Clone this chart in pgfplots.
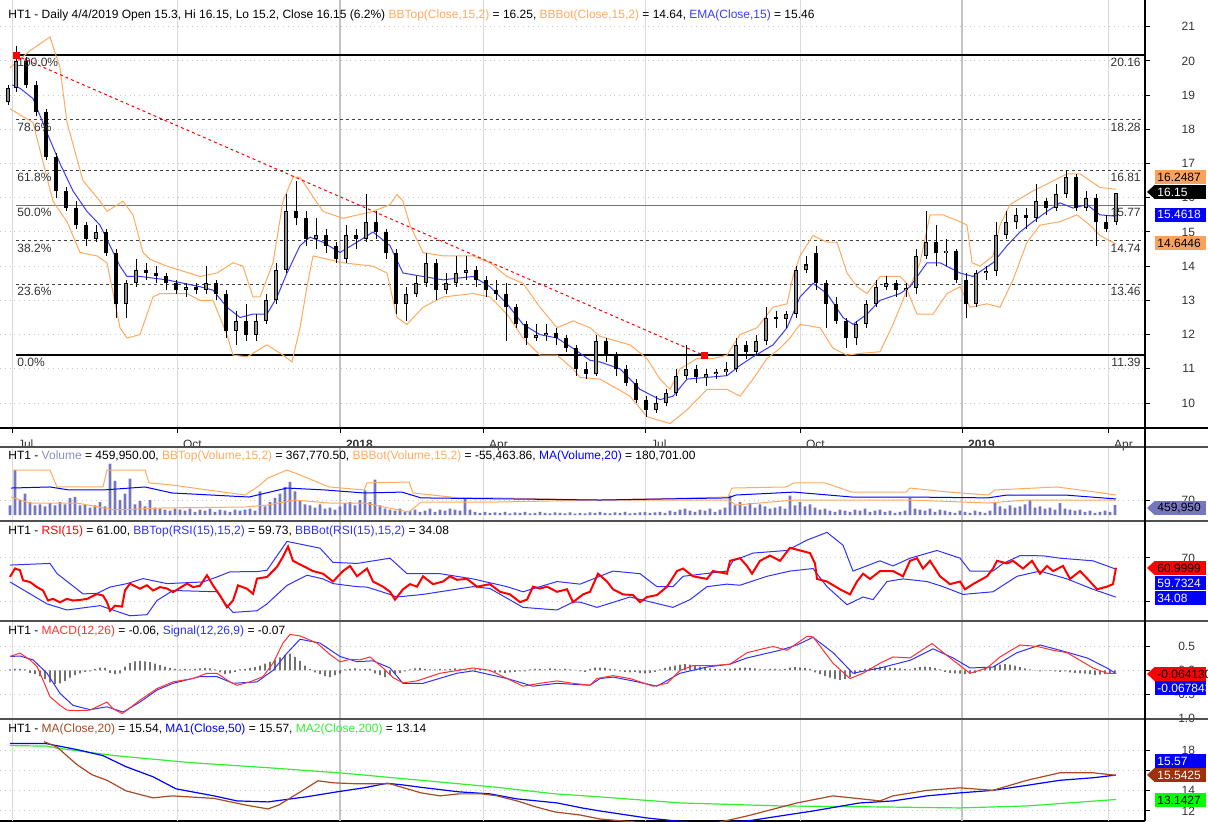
\documentclass[border=0pt]{standalone}
\usepackage{fontspec}
\setmainfont{Liberation Sans}
\usepackage{pgfplots}
\usepackage{pgfplotstable}
\pgfplotsset{compat=1.18}

\definecolor{bbor}{HTML}{FFAA5E}
\definecolor{emab}{HTML}{3A3AFF}
\definecolor{volc}{HTML}{7676BE}
\definecolor{voltxt}{HTML}{8C8CCC}
\definecolor{bandbl}{HTML}{3030FF}
\definecolor{macdred}{HTML}{FF3030}
\definecolor{mabrown}{HTML}{A84A24}
\definecolor{magreen}{HTML}{30F030}
\definecolor{tagor}{HTML}{F9A25E}
\definecolor{tagbrown}{HTML}{A0300A}
\definecolor{qgrid}{HTML}{DADADA}
\definecolor{ygrid}{HTML}{C4C4C4}
\definecolor{sep}{HTML}{505050}
\definecolor{lbl}{HTML}{333333}
\definecolor{upbody}{HTML}{8C8C8C}

\newcommand\smallfont{\fontsize{6}{7}\selectfont}

% quarter and year grid lines, drawn in every panel
\newcommand\vgrid{%
  \pgfplotsinvokeforeach{12,177,483,645,800,1108}{%
    \draw[qgrid, line width=0.5pt] ({axis cs:##1,0}|-{rel axis cs:0,0}) -- ({axis cs:##1,0}|-{rel axis cs:0,1});}%
  \pgfplotsinvokeforeach{340,962}{%
    \draw[ygrid, line width=1.1pt] ({axis cs:##1,0}|-{rel axis cs:0,0}) -- ({axis cs:##1,0}|-{rel axis cs:0,1});}%
}

\pgfplotsset{
  panel/.style={
    scale only axis, width=572.5pt, xmin=0, xmax=1145,
    axis x line*=bottom, axis y line*=right,
    axis line style={-, black, line width=0.6pt},
    tick align=outside, major tick length=2.5pt,
    tick style={black, line width=0.5pt},
    ymajorgrids, major y grid style={gray!45, dotted, line width=0.5pt},
    tick label style={font=\smallfont, text=lbl},
    yticklabel style={anchor=east, xshift=26pt},
    /pgf/number format/assume math mode=true,
  },
  lower/.style={panel, xtick=\empty},
  candle/.style={mark=none, draw=none, error bars/y dir=both, error bars/y explicit,
    error bars/error mark=none, error bars/error bar style={draw=#1}},
}
\tikzset{tag/.style={font=\smallfont, anchor=west, inner xsep=1pt, inner ysep=0pt,
  minimum width=25.5pt, minimum height=7pt, xshift=5pt}}
\newcommand\ptag[3]{% plain tag: coord, fill, text
  \node[tag, fill=#2] at (#1) {\makebox[23.5pt][l]{#3}};}
\newcommand\atag[4]{% tag with arrow
  \node[tag, fill=#2, text=#3] (tmp) at (#1) {\makebox[23.5pt][l]{#4}};
  \fill[#2] (tmp.north west) -- ([xshift=-4pt]tmp.west) -- (tmp.south west) -- cycle;}

% ---------------- data ----------------
\pgfplotstableread{
x o h l c
8 18.8 19.3 18.7 19.2
16 19.2 20.45 19.1 20.0
26 20.0 20.1 19.2 19.3
36 19.3 19.4 18.4 18.5
46 18.5 18.6 17.1 17.2
56 17.2 17.3 16.0 16.2
66 16.2 16.3 15.6 15.7
76 15.7 15.9 15.1 15.2
86 15.2 15.3 14.6 14.8
96 14.8 15.2 14.7 15.0
106 15.0 15.1 14.3 14.4
116 14.4 14.5 12.5 12.9
126 12.9 13.6 12.5 13.5
136 13.5 14.2 13.4 13.9
146 13.9 14.1 13.6 13.8
156 13.8 14.0 13.5 13.7
166 13.7 13.8 13.3 13.5
176 13.5 13.6 13.2 13.3
186 13.3 13.5 13.1 13.4
196 13.4 13.5 13.2 13.3
206 13.3 14.0 13.2 13.5
216 13.5 13.6 13.0 13.2
226 13.2 13.3 11.9 12.1
236 12.1 12.7 11.7 12.4
246 12.4 12.9 11.8 12.0
256 12.0 12.6 11.8 12.4
266 12.4 13.2 12.3 13.0
276 13.0 14.1 12.9 13.9
286 13.9 16.1 13.8 15.6
296 15.6 16.5 15.2 15.4
306 15.4 15.6 14.6 14.8
316 14.8 15.4 14.5 14.9
326 14.9 15.1 14.4 14.6
336 14.6 14.7 14.1 14.2
346 14.2 15.2 14.1 14.9
356 14.9 15.1 14.5 14.8
366 14.8 16.1 14.7 15.3
376 15.3 15.6 14.8 15.0
386 15.0 15.1 14.2 14.4
396 14.4 14.5 12.6 12.9
406 12.9 13.4 12.4 13.2
416 13.2 13.7 13.1 13.5
426 13.5 14.4 13.4 14.1
436 14.1 14.2 13.0 13.3
446 13.3 13.8 13.2 13.5
456 13.5 14.3 13.4 13.8
466 13.8 14.3 13.6 13.9
476 13.9 14.0 13.4 13.6
486 13.6 13.7 13.1 13.3
496 13.3 13.6 13.0 13.2
506 13.2 13.5 11.8 12.8
516 12.8 12.9 12.2 12.3
526 12.3 12.4 11.7 11.9
536 11.9 12.3 11.8 12.0
546 12.0 12.3 11.8 12.05
556 12.05 12.2 11.7 11.9
566 11.9 12.0 11.5 11.6
576 11.6 11.7 10.8 11.0
586 11.0 11.2 10.7 10.85
596 10.85 12.0 10.8 11.8
606 11.8 11.9 11.2 11.4
616 11.4 11.5 10.8 11.0
626 11.0 11.1 10.5 10.6
636 10.6 10.7 10.0 10.1
646 10.1 10.2 9.6 9.8
656 9.8 10.2 9.7 10.0
666 10.0 10.4 9.9 10.3
676 10.3 11.0 10.2 10.8
686 10.8 11.7 10.7 11.0
696 11.0 11.1 10.6 10.75
706 10.75 11.0 10.5 10.85
716 10.85 11.0 10.7 10.9
726 10.9 11.2 10.8 11.0
736 11.0 11.9 10.9 11.7
746 11.7 11.8 11.3 11.5
756 11.5 12.0 11.4 11.8
766 11.8 12.8 11.7 12.5
776 12.5 12.7 12.2 12.45
786 12.45 12.7 12.2 12.6
796 12.6 14.0 12.5 13.9
806 13.9 14.3 13.8 14.05
816 14.4 14.6 13.3 13.5
826 13.5 13.6 12.2 12.9
836 12.9 13.1 12.3 12.4
846 12.4 12.5 11.6 11.9
856 11.9 12.4 11.7 12.3
866 12.3 13.0 12.2 12.9
876 12.9 13.6 12.8 13.4
886 13.4 13.7 13.3 13.5
896 13.5 13.6 13.1 13.3
906 13.3 13.5 13.1 13.35
916 13.35 14.5 13.2 14.3
926 14.3 15.6 14.2 14.7
936 14.7 15.2 14.0 14.4
946 14.4 14.8 14.0 14.45
956 14.45 14.5 13.5 13.6
966 13.6 13.8 12.5 12.9
976 12.9 13.9 12.8 13.8
986 13.8 14.0 13.6 13.85
996 13.85 15.3 13.7 14.9
1006 14.9 15.6 14.8 15.3
1016 15.3 15.7 15.1 15.5
1026 15.5 15.7 15.1 15.4
1036 15.4 16.4 15.3 15.9
1046 15.9 16.0 15.5 15.7
1056 15.7 16.4 15.6 16.1
1066 16.1 16.8 16.0 16.6
1076 16.6 16.7 15.6 15.7
1086 15.7 16.2 15.6 16.0
1096 16.0 16.1 14.6 15.3
1106 15.3 15.5 15.0 15.1
1116 15.3 16.15 15.2 16.15
}\candles

\pgfplotstableread{
x y
10 19.8
30 20.3
50 20.7
60 19.8
67 18.2
83 16.5
100 15.9
107 15.6
123 15.9
133 15.5
143 14.4
150 14.2
167 14.0
200 13.7
217 13.8
233 14.1
243 14.0
253 13.1
260 13.1
273 14.1
283 15.9
293 16.6
300 16.6
323 15.6
343 15.4
373 15.6
390 15.8
397 16.1
403 15.9
410 15.2
423 14.4
443 14.3
473 14.3
490 14.1
507 13.7
523 13.5
540 12.8
557 12.2
573 12.4
590 12.2
600 11.95
630 11.7
647 11.3
660 10.7
670 10.4
680 11.0
697 11.3
713 11.3
727 11.4
740 12.0
757 12.2
773 12.8
787 12.9
793 13.7
800 14.3
813 14.9
827 14.7
837 14.7
847 13.8
857 13.4
867 13.2
880 13.7
900 13.7
910 13.4
920 14.1
930 15.5
943 15.5
960 15.3
967 15.2
972 14.1
980 14.0
993 14.3
1000 15.2
1010 15.8
1033 16.2
1047 16.4
1067 16.7
1080 16.7
1100 16.3
1116 16.25
}\bbtop

\pgfplotstableread{
x y
10 18.6
33 18.2
53 15.9
67 15.3
80 14.4
97 14.3
107 14.1
120 12.2
127 11.9
140 12.0
153 13.1
160 13.2
187 13.2
200 13.0
213 13.0
227 12.0
233 11.4
247 11.35
267 11.7
283 11.4
292 11.2
300 12.2
307 13.4
313 14.3
343 14.1
373 14.0
387 13.8
397 12.5
407 12.3
423 12.8
443 13.1
473 13.2
490 13.1
507 12.6
523 11.9
540 11.4
557 11.4
573 11.0
580 10.75
600 10.7
630 10.2
647 9.6
670 9.4
687 9.8
707 10.4
727 10.4
740 10.2
753 10.7
767 11.3
780 11.6
790 11.9
800 12.3
820 12.2
833 11.6
847 11.4
860 11.45
880 11.5
893 12.3
907 13.3
917 12.6
933 12.6
947 13.2
960 13.4
970 12.8
987 12.9
1000 12.8
1013 13.6
1027 14.7
1040 15.2
1060 15.3
1077 15.5
1090 15.2
1100 14.9
1116 14.64
}\bbbot

\pgfplotstableread{
x y
12 19.3
20 19.2
33 18.9
47 17.9
60 17.0
73 16.2
87 15.6
100 15.2
110 14.6
120 14.0
127 13.7
140 13.7
167 13.6
200 13.4
213 13.3
227 12.8
240 12.5
253 12.6
267 12.6
277 13.1
287 13.8
300 14.6
310 14.85
323 14.7
340 14.4
357 14.7
373 15.0
390 14.6
403 13.8
423 13.7
443 13.6
473 13.7
490 13.4
507 12.9
523 12.3
540 12.0
557 11.9
573 11.6
590 11.25
600 11.2
620 11.0
640 10.4
660 10.1
673 10.2
687 10.7
707 10.75
727 10.8
740 11.1
753 11.35
773 11.7
787 12.2
800 13.1
813 13.5
827 13.2
843 12.5
853 12.3
867 12.6
880 13.0
900 13.2
910 13.4
927 14.1
940 14.1
960 13.8
973 13.7
993 14.1
1007 14.6
1020 15.0
1033 15.3
1047 15.6
1060 15.85
1073 15.7
1087 15.8
1100 15.5
1116 15.46
}\ema

\pgfplotstableread{
x v
10 450
15 2100
20 700
25 1000
30 600
35 450
40 500
45 400
50 550
55 450
60 600
65 500
70 800
75 850
80 450
85 500
90 350
95 450
100 600
105 400
110 2400
115 1600
120 700
125 1000
130 1700
135 500
140 650
145 400
150 700
155 350
160 300
165 250
170 200
175 300
180 250
185 200
190 300
195 150
200 250
205 200
210 300
215 150
220 250
225 200
230 150
235 250
240 200
245 250
250 300
255 200
260 1100
265 400
270 600
275 800
280 1000
285 1300
290 1550
295 1100
300 700
305 500
310 450
315 350
320 500
325 300
330 350
335 250
340 400
345 550
350 600
355 450
360 700
365 1150
370 600
375 1650
380 450
385 300
390 250
395 200
400 300
405 150
410 200
415 250
420 150
425 200
430 300
435 150
440 250
445 200
450 300
455 250
460 200
465 800
470 250
475 150
480 100
485 150
490 100
495 120
500 100
505 150
510 80
515 120
520 100
525 150
530 80
535 100
540 150
545 100
550 80
555 120
560 100
565 80
570 120
575 60
580 100
585 80
590 120
595 100
600 150
605 100
610 80
615 120
620 100
625 150
630 80
635 100
640 120
645 150
650 100
655 120
660 150
665 100
670 200
675 150
680 250
685 300
690 200
695 150
700 250
705 200
710 300
715 150
720 250
725 350
730 900
735 450
740 600
745 400
750 550
755 350
760 500
765 400
770 300
775 350
780 400
785 300
790 900
795 450
800 600
805 400
810 500
815 350
820 250
825 300
830 200
835 150
840 250
845 200
850 150
855 250
860 200
865 300
870 150
875 200
880 250
885 150
890 200
895 100
900 150
905 200
910 800
915 300
920 250
925 200
930 300
935 150
940 250
945 200
950 150
955 100
960 200
965 150
970 100
975 200
980 150
985 100
990 200
995 550
1000 400
1005 300
1010 450
1015 350
1020 400
1025 500
1030 700
1035 350
1040 400
1045 300
1050 350
1055 250
1060 550
1065 300
1070 250
1075 200
1080 250
1085 150
1090 200
1095 100
1100 150
1105 200
1110 150
1115 460
}\vol

\pgfplotstableread{
x y
13 2100
50 2100
57 1310
103 1310
107 2100
145 2100
149 1500
172 1400
245 934
260 1400
268 1730
287 2100
300 1870
329 1310
364 1170
367 1500
409 1540
413 1030
459 800
497 800
600 700
728 840
732 1260
786 1310
794 1500
825 1500
852 1070
906 1070
910 1260
949 1070
988 934
995 1170
1057 1310
1096 1070
1116 934
}\vbbtop

\pgfplotstableread{
x y
11 840
30 560
77 560
115 234
161 327
245 374
268 467
295 700
329 560
364 560
409 140
421 607
497 607
600 700
728 700
736 467
794 700
852 700
910 700
988 560
1026 700
1116 700
}\vbbbot

\pgfplotstableread{
x y
11 1260
50 1310
69 1170
103 1170
145 1310
172 1030
249 840
287 1260
325 1170
364 1030
402 1070
421 800
600 700
728 800
736 934
794 1070
852 840
910 840
988 800
1007 934
1065 934
1116 750
}\vma

\pgfplotstableread{
x y
10 52.6
15 60.4
20 58.8
23 49.5
30 48
37 43.3
43 40.2
48 31
53 32.5
60 29.4
67 32.5
73 31
80 31.5
87 32.5
97 37
103 35.6
107 29.4
110 21.6
115 26.3
122 25.4
125 40.2
130 46.5
140 41.8
147 45
153 40.2
160 43.3
167 42
173 38.7
187 46.5
193 43.3
200 44.5
207 54.2
213 44.9
220 35.6
227 24.8
233 31
238 44.9
247 41.8
253 37.1
257 51.1
267 52.6
277 61.9
283 71.2
288 80.5
293 67.4
303 62.7
313 58
323 55.6
333 48.4
343 58
350 62.7
357 53.2
367 60.3
373 48.4
383 43.7
390 39
395 31.8
403 41.3
410 46
417 43.7
423 53.2
433 46
443 48.4
450 53.2
457 50
467 50.8
477 43.7
490 46
500 39
510 36.6
520 29.5
527 31.8
533 43.7
540 42
547 43.7
557 39
567 41.3
573 29.5
583 36.6
590 39
598 55.6
607 48.4
613 41.3
623 36.6
633 36
640 29.5
647 34.2
657 36
667 43.7
677 58
683 60.3
693 53.2
707 50.8
713 58
727 55.6
730 67.4
740 69.8
747 62.7
752 55.6
760 67.4
770 72.2
780 67.4
790 79.3
800 76.9
810 74.5
815 65
817 50.8
827 48.4
840 41.3
850 36.6
857 48.4
863 55.6
870 50.8
880 58
893 58
903 53.2
910 67.4
917 69.8
923 60.3
930 67.4
940 53.2
950 46
960 48.4
965 41.3
973 46
987 53.2
993 60.3
997 67.4
1007 65
1013 67.4
1023 60.3
1032 67.4
1040 55.6
1047 62.7
1053 58
1063 62.7
1070 50.8
1080 58
1090 48.4
1097 41.3
1107 43.7
1113 46
1116 61
}\rsi

\pgfplotstableread{
x y
10 63.5
50 65
57 55.7
83 37.1
97 37.5
110 43.3
127 46.5
143 51.1
167 46.5
203 48
217 52.6
230 57.3
257 57.5
267 58.8
287 85.2
320 79
333 66
357 65
390 69.8
407 55.6
440 55.6
473 50.8
507 43.7
523 39
557 48.4
580 46
613 58
640 55.6
657 43.7
673 43.7
683 53.2
727 58
733 67.4
753 74.5
787 76.9
807 86.4
827 93.5
843 81.7
853 58
880 67.4
893 62.7
910 69.8
937 76.9
960 69.8
970 58
993 58
1003 65
1020 72.2
1043 72
1060 69.8
1093 67.4
1116 59.73
}\rsitop

\pgfplotstableread{
x y
10 48
47 27.9
67 22.3
100 26.3
130 17
147 18
157 31
173 40.2
217 39
227 26.3
233 20.1
257 21.6
267 27.9
287 44.9
307 54.2
323 50.8
333 46.5
357 43.7
367 43.3
390 36.6
397 34.2
423 36.6
473 43.7
490 42
523 24.7
557 22.3
573 29.5
580 29.5
597 24.7
630 34.2
673 24.7
690 31.8
707 43.7
727 46
740 45
767 53.2
790 58
813 60.3
827 43.7
847 27.1
863 34.2
873 31.8
887 48.4
903 50.8
927 48.4
943 43.7
963 36.6
993 39
1017 53.2
1040 58
1067 50.8
1093 41.3
1116 34.08
}\rsibot

\pgfplotstableread{
x y
10 0.29
20 0.36
30 0.22
37 0.08
43 -0.20
50 -0.55
60 -0.73
67 -0.83
77 -0.84
90 -0.83
100 -0.73
107 -0.66
113 -0.80
122 -0.90
127 -0.83
140 -0.62
157 -0.38
173 -0.24
193 -0.17
207 -0.06
217 -0.06
230 -0.24
237 -0.31
250 -0.24
263 -0.13
273 0.15
283 0.57
290 0.75
300 0.72
317 0.57
330 0.33
340 0.18
350 0.23
360 0.22
370 0.28
383 0.05
393 -0.15
403 -0.26
417 -0.22
440 -0.06
473 0.05
490 0.0
523 -0.33
540 -0.27
557 -0.22
573 -0.27
590 -0.31
597 -0.17
613 -0.11
630 -0.17
653 -0.33
667 -0.27
680 0.0
693 0.10
713 0.10
730 0.13
747 0.37
773 0.50
787 0.42
807 0.71
813 0.70
833 0.15
850 -0.17
863 -0.06
880 0.15
893 0.28
910 0.26
932 0.56
947 0.31
960 0.10
970 -0.06
987 0.05
1000 0.28
1020 0.53
1037 0.50
1053 0.42
1067 0.37
1080 0.21
1093 0.05
1107 -0.06
1116 -0.064
}\macd

\pgfplotstableread{
x y
10 0.29
20 0.30
33 0.22
47 -0.06
60 -0.48
73 -0.73
90 -0.82
107 -0.76
123 -0.87
140 -0.66
157 -0.41
173 -0.27
200 -0.13
217 -0.13
233 -0.27
257 -0.24
273 0.00
287 0.36
300 0.65
320 0.57
340 0.29
357 0.18
373 0.20
390 0.05
403 -0.27
423 -0.27
457 -0.06
473 -0.01
507 -0.17
533 -0.33
557 -0.27
590 -0.31
600 -0.17
613 -0.14
633 -0.22
657 -0.33
680 -0.06
707 0.07
730 0.13
747 0.26
780 0.42
797 0.53
813 0.69
833 0.37
853 -0.06
880 0.05
910 0.21
933 0.45
953 0.26
970 0.05
993 0.07
1017 0.37
1040 0.53
1060 0.42
1087 0.26
1107 0.05
1116 -0.068
}\signal

\pgfplotstableread{
x y
10 0.02
15 0.03
20 0.03
25 0.02
30 -0.05
35 -0.08
40 -0.12
45 -0.18
50 -0.25
55 -0.28
60 -0.27
65 -0.22
70 -0.15
75 -0.10
80 -0.06
85 -0.03
90 -0.02
95 0.03
100 0.06
105 0.05
110 -0.05
115 -0.08
120 -0.06
125 0.08
130 0.15
135 0.19
140 0.20
145 0.19
150 0.17
155 0.14
160 0.11
165 0.08
170 0.05
175 0.03
180 0.02
185 0.03
190 0.02
195 0.03
200 0.04
205 0.05
210 0.04
215 0.02
220 -0.04
225 -0.08
230 -0.06
235 -0.03
240 0.02
245 0.03
250 0.05
255 0.07
260 0.10
265 0.14
270 0.18
275 0.22
280 0.27
285 0.32
290 0.35
295 0.28
300 0.20
305 0.10
310 0.03
315 -0.04
320 -0.08
325 -0.12
330 -0.14
335 -0.10
340 -0.06
345 0.02
350 0.03
355 0.04
360 0.02
365 0.03
370 0.03
375 -0.06
380 -0.10
385 -0.14
390 -0.10
395 -0.08
400 -0.05
405 -0.02
410 0.02
415 0.04
420 0.05
425 0.03
430 0.02
435 0.02
440 0.03
445 0.02
450 0.03
455 0.04
460 0.03
465 0.02
470 0.01
475 0.02
480 0.03
485 0.02
490 -0.02
495 -0.03
500 -0.04
505 -0.05
510 -0.04
515 -0.03
520 -0.02
525 -0.02
530 0.02
535 0.03
540 0.03
545 0.02
550 0.04
555 0.03
560 0.02
565 0.03
570 0.02
575 0.01
580 -0.02
585 -0.03
590 0.03
595 0.06
600 0.06
605 0.05
610 0.03
615 0.02
620 -0.02
625 -0.03
630 -0.04
635 -0.03
640 -0.05
645 -0.06
650 -0.05
655 -0.03
660 0.02
665 0.05
670 0.08
675 0.10
680 0.12
685 0.13
690 0.12
695 0.10
700 0.08
705 0.05
710 0.04
715 0.03
720 0.02
725 0.03
730 0.03
735 0.04
740 0.05
745 0.06
750 0.05
755 0.04
760 0.02
765 0.02
770 0.03
775 0.03
780 0.02
785 0.03
790 0.06
795 0.07
800 0.06
805 0.05
810 0.03
815 -0.04
820 -0.08
825 -0.12
830 -0.15
835 -0.18
840 -0.20
845 -0.18
850 -0.14
855 -0.08
860 -0.03
865 0.03
870 0.05
875 0.06
880 0.08
885 0.07
890 0.06
895 0.05
900 0.04
905 0.03
910 0.02
915 0.05
920 0.07
925 0.08
930 0.07
935 0.05
940 0.02
945 -0.03
950 -0.05
955 -0.06
960 -0.07
965 -0.08
970 -0.07
975 -0.05
980 -0.02
985 0.05
990 0.08
995 0.10
1000 0.12
1005 0.13
1010 0.12
1015 0.10
1020 0.07
1025 0.04
1030 0.02
1035 0.01
1040 -0.02
1045 0.01
1050 -0.01
1055 -0.02
1060 -0.03
1065 -0.02
1070 -0.04
1075 -0.05
1080 -0.06
1085 -0.07
1090 -0.08
1095 -0.10
1100 -0.09
1105 -0.08
1110 -0.06
1115 -0.04
}\hist

\pgfplotstableread{
x y
44 18.9
57 18.35
77 16.6
92 15.6
107 15.05
126 14.0
153 13.3
172 13.5
214 13.25
245 12.6
268 12.2
279 12.6
302 14.0
318 15.0
333 14.8
357 14.7
390 14.7
402 14.35
421 13.8
440 13.5
459 13.7
482 13.7
497 13.5
517 13.0
536 12.4
555 11.9
580 11.6
600 11.2
647 10.8
680 10.6
707 10.6
747 11.5
797 12.8
833 13.5
880 13.0
893 13.5
927 14.05
960 14.3
993 14.05
1027 15.05
1060 15.8
1093 15.8
1116 15.54
}\maA

\pgfplotstableread{
x y
10 18.7
46 18.7
77 18.1
103 17.5
126 16.4
153 15.4
176 14.2
214 13.5
237 13.0
268 12.9
306 13.4
337 13.9
364 14.3
387 14.75
402 14.6
421 14.35
459 13.9
490 13.7
517 13.2
557 12.8
582 12.3
600 12.0
647 11.3
697 10.8
747 11.0
813 12.0
860 12.8
893 13.0
927 13.5
960 13.8
993 14.05
1027 14.55
1060 15.05
1093 15.3
1116 15.57
}\maB

\pgfplotstableread{
x y
10 18.5
46 18.45
57 18.25
115 17.5
191 16.8
268 16.3
344 15.75
421 15.05
497 14.35
555 13.7
600 13.4
680 12.8
780 12.5
880 12.4
960 12.3
1027 12.5
1116 13.14
}\maC

\begin{document}
\begin{tikzpicture}[font=\smallfont]
\useasboundingbox (0,0) rectangle (604pt,-410.5pt);

% ---------- price panel ----------
\begin{axis}[panel, at={(0pt,0pt)}, anchor=north west, height=214pt,
  ymin=9.27, ymax=21.78, ytick={10,...,21},
  xtick={12,177,483,645,800,1108},
  xticklabels={Jul,Oct,Apr,Jul,Oct,Apr},
  extra x ticks={340,962},
  extra x tick labels={\textbf{2018},\textbf{2019}},
  extra x tick style={grid=none},
  xticklabel style={anchor=north west, xshift=-0.5pt},
]
\vgrid
\addplot[black, line width=1pt] coordinates {(16,20.16) (1145,20.16)};
\addplot[black, line width=1pt] coordinates {(16,11.39) (1145,11.39)};
\addplot[black!55, line width=0.8pt] coordinates {(16,15.77) (1145,15.77)};
\addplot[black!75, dash pattern=on 1.5pt off 1.5pt, line width=0.5pt] coordinates {(16,18.28) (1145,18.28)};
\addplot[black!75, dash pattern=on 1.5pt off 1.5pt, line width=0.5pt] coordinates {(16,16.81) (1145,16.81)};
\addplot[black!75, dash pattern=on 1.5pt off 1.5pt, line width=0.5pt] coordinates {(16,14.74) (1145,14.74)};
\addplot[black!75, dash pattern=on 1.5pt off 1.5pt, line width=0.5pt] coordinates {(16,13.46) (1145,13.46)};
\addplot[bbor, line width=0.5pt] table[x=x, y=y] {\bbtop};
\addplot[bbor, line width=0.5pt] table[x=x, y=y] {\bbbot};
\addplot[emab, line width=0.5pt] table[x=x, y=y] {\ema};
% wicks
\addplot[candle=black, error bars/error bar style={line width=0.5pt}]
  table[x=x, y expr={(\thisrow{h}+\thisrow{l})/2}, y error expr={(\thisrow{h}-\thisrow{l})/2}] {\candles};
% bodies: black outline, grey fill for rising days
\addplot[candle=black, error bars/error bar style={line width=2.4pt}]
  table[x=x, y expr={(\thisrow{o}+\thisrow{c})/2}, y error expr={max(abs(\thisrow{c}-\thisrow{o})/2,0.03)}] {\candles};
\addplot[restrict expr to domain={\thisrow{c}-\thisrow{o}}{0.001:100}, candle=upbody, error bars/error bar style={line width=1.4pt}]
  table[x=x, y expr={(\thisrow{o}+\thisrow{c})/2}, y error expr={abs(\thisrow{c}-\thisrow{o})/2-0.03}] {\candles};
\addplot[red, dash pattern=on 1.5pt off 1.5pt, line width=0.5pt] coordinates {(16,20.16) (704,11.39)};
\addplot[only marks, mark=square*, mark size=1.5pt, red] coordinates {(16,20.16) (704,11.39)};
% level labels
\node[anchor=west, text=lbl, inner sep=0pt] at (axis cs:17,19.95) {100.0\%};
\node[anchor=west, text=lbl, inner sep=0pt] at (axis cs:17,18.07) {78.6\%};
\node[anchor=west, text=lbl, inner sep=0pt] at (axis cs:17,16.60) {61.8\%};
\node[anchor=west, text=lbl, inner sep=0pt] at (axis cs:17,15.56) {50.0\%};
\node[anchor=west, text=lbl, inner sep=0pt] at (axis cs:17,14.53) {38.2\%};
\node[anchor=west, text=lbl, inner sep=0pt] at (axis cs:17,13.25) {23.6\%};
\node[anchor=west, text=lbl, inner sep=0pt] at (axis cs:17,11.18) {0.0\%};
\node[anchor=east, text=lbl, inner sep=0pt] at (axis cs:1141,19.95) {20.16};
\node[anchor=east, text=lbl, inner sep=0pt] at (axis cs:1141,18.07) {18.28};
\node[anchor=east, text=lbl, inner sep=0pt] at (axis cs:1141,16.60) {16.81};
\node[anchor=east, text=lbl, inner sep=0pt] at (axis cs:1141,15.56) {15.77};
\node[anchor=east, text=lbl, inner sep=0pt] at (axis cs:1141,14.53) {14.74};
\node[anchor=east, text=lbl, inner sep=0pt] at (axis cs:1141,13.25) {13.46};
\node[anchor=east, text=lbl, inner sep=0pt] at (axis cs:1141,11.18) {11.39};
\node[anchor=west, inner sep=0pt] at ([xshift=4pt,yshift=-7.5pt]rel axis cs:0,1)
  {HT1 - Daily 4/4/2019 Open 15.3, Hi 16.15, Lo 15.2, Close 16.15 (6.2\%) \textcolor{bbor}{BBTop(Close,15,2)} = 16.25, \textcolor{bbor}{BBBot(Close,15,2)} = 14.64, \textcolor{emab}{EMA(Close,15)} = 15.46};
\coordinate (tA) at (axis cs:1145,16.61);
\coordinate (tB) at (axis cs:1145,16.17);
\coordinate (tC) at (axis cs:1145,15.50);
\coordinate (tD) at (axis cs:1145,14.68);
\end{axis}

% ---------- volume panel ----------
\begin{axis}[lower, at={(0pt,-223.5pt)}, anchor=north west, height=37pt,
  ymin=-280, ymax=3176, ytick={700}, yticklabels={70}]
\vgrid
\addplot[ybar, bar width=1.4pt, bar shift=0pt, fill=volc, draw=none] table[x=x, y=v] {\vol};
\addplot[bbor, line width=0.5pt] table[x=x, y=y] {\vbbtop};
\addplot[bbor, line width=0.5pt] table[x=x, y=y] {\vbbbot};
\addplot[blue, line width=0.5pt] table[x=x, y=y] {\vma};
\node[anchor=west, inner sep=0pt] at ([xshift=4pt,yshift=-4.5pt]rel axis cs:0,1)
  {HT1 - \textcolor{voltxt}{Volume} = 459,950.00, \textcolor{bbor}{BBTop(Volume,15,2)} = 367,770.50, \textcolor{bbor}{BBBot(Volume,15,2)} = -55,463.86, \textcolor{blue}{MA(Volume,20)} = 180,701.00};
\coordinate (tV) at (axis cs:1145,327);
\end{axis}

% ---------- RSI panel ----------
\begin{axis}[lower, at={(0pt,-260.5pt)}, anchor=north west, height=50pt,
  ymin=12.2, ymax=103.9, ytick={30,70}]
\vgrid
\addplot[bandbl, line width=0.5pt] table[x=x, y=y] {\rsitop};
\addplot[bandbl, line width=0.5pt] table[x=x, y=y] {\rsibot};
\addplot[red, line width=1pt] table[x=x, y=y] {\rsi};
\node[anchor=west, inner sep=0pt] at ([xshift=4pt,yshift=-5pt]rel axis cs:0,1)
  {HT1 - \textcolor{red}{RSI(15)} = 61.00, \textcolor{bandbl}{BBTop(RSI(15),15,2)} = 59.73, \textcolor{bandbl}{BBBot(RSI(15),15,2)} = 34.08};
\coordinate (tR1) at (axis cs:1145,60.8);
\coordinate (tR2) at (axis cs:1145,47.1);
\coordinate (tR3) at (axis cs:1145,33.3);
\end{axis}

% ---------- MACD panel ----------
\begin{axis}[lower, at={(0pt,-310.5pt)}, anchor=north west, height=49pt,
  ymin=-1.015, ymax=1.03, ytick={-1,-0.5,0,0.5}, yticklabels={-1.0,-0.5,0.0,0.5}]
\vgrid
\addplot[ybar, bar width=0.6pt, bar shift=0pt, fill=black!85, draw=none] table[x=x, y=y] {\hist};
\addplot[bandbl, line width=0.5pt] table[x=x, y=y] {\signal};
\addplot[macdred, line width=0.5pt] table[x=x, y=y] {\macd};
\node[anchor=west, inner sep=0pt] at ([xshift=4pt,yshift=-5pt]rel axis cs:0,1)
  {HT1 - \textcolor{macdred}{MACD(12,26)} = -0.06, \textcolor{bandbl}{Signal(12,26,9)} = -0.07};
\coordinate (tM1) at (axis cs:1145,-0.075);
\coordinate (tM2) at (axis cs:1145,-0.367);
\end{axis}

% ---------- moving averages panel ----------
\begin{axis}[lower, at={(0pt,-359.5pt)}, anchor=north west, height=51pt,
  ymin=11.0, ymax=21.14, ytick={12,14,16,18}]
\vgrid
\addplot[magreen, line width=0.6pt] table[x=x, y=y] {\maC};
\addplot[blue, line width=0.6pt] table[x=x, y=y] {\maB};
\addplot[mabrown, line width=0.6pt] table[x=x, y=y] {\maA};
\node[anchor=west, inner sep=0pt] at ([xshift=4pt,yshift=-5pt]rel axis cs:0,1)
  {HT1 - \textcolor{mabrown}{MA(Close,20)} = 15.54, \textcolor{blue}{MA1(Close,50)} = 15.57, \textcolor{magreen}{MA2(Close,200)} = 13.14};
\coordinate (tS1) at (axis cs:1145,16.97);
\coordinate (tS2) at (axis cs:1145,15.58);
\coordinate (tS3) at (axis cs:1145,13.09);
\end{axis}

% frame lines
\draw[black, line width=0.7pt] (0,-214pt) -- (604pt,-214pt);
\foreach \yy in {223.5,260.5,310.5,359.5} {\draw[sep, line width=0.7pt] (0,-\yy pt) -- (604pt,-\yy pt);}
\draw[black, line width=0.7pt] (572.5pt,0) -- (572.5pt,-410.5pt);

% value tags
\ptag{tA}{tagor}{16.2487}
\atag{tB}{black}{white}{16.15}
\ptag{tC}{blue}{\textcolor{white}{15.4618}}
\ptag{tD}{tagor}{14.6446}
\atag{tV}{volc}{black}{459,950}
\atag{tR1}{red}{black}{60.9999}
\ptag{tR2}{blue}{\textcolor{white}{59.7324}}
\ptag{tR3}{blue}{\textcolor{white}{34.08}}
\atag{tM1}{red}{black}{-0.064130}
\ptag{tM2}{blue}{\textcolor{white}{-0.067843}}
\ptag{tS1}{blue}{\textcolor{white}{15.57}}
\atag{tS2}{tagbrown}{white}{15.5425}
\ptag{tS3}{green}{13.1427}
\end{tikzpicture}
\end{document}
